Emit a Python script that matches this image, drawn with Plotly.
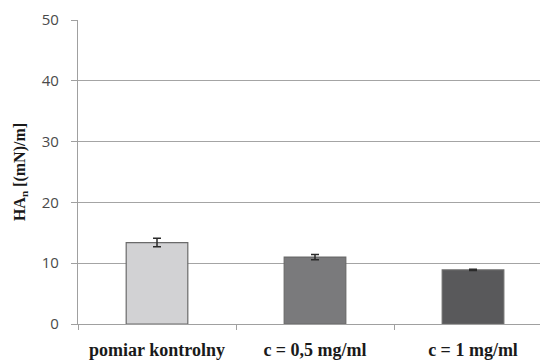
import plotly.graph_objects as go

categories = ["pomiar kontrolny", "c = 0,5 mg/ml", "c = 1 mg/ml"]
values = [13.4, 11.0, 8.9]
errors = [0.7, 0.45, 0.1]
bar_colors = ["#d2d2d4", "#7a7a7c", "#59595b"]

fig = go.Figure()
fig.add_trace(go.Bar(
    x=categories,
    y=values,
    width=0.39,
    marker=dict(color=bar_colors, line=dict(color="#6a6a6a", width=1.2)),
    error_y=dict(type="data", array=errors, visible=True,
                 color="#2a2a2a", thickness=1.5, width=4),
))

fig.update_layout(
    width=540, height=361,
    margin=dict(l=78, r=0, t=20, b=37),
    paper_bgcolor="white", plot_bgcolor="white",
    showlegend=False,
    xaxis=dict(
        type="category",
        range=[-0.5, 2.424],
        tickson="boundaries",
        ticks="outside", ticklen=5, tickcolor="#a0a0a0", tickwidth=1,
        ticklabelstandoff=9,
        showline=True, linecolor="#a0a0a0", linewidth=1.2,
        showgrid=False,
        tickfont=dict(family="Liberation Serif", size=18, color="#1a1a1a", weight="bold"),
    ),
    yaxis=dict(
        range=[0, 50],
        dtick=10,
        ticks="outside", ticklen=6, tickcolor="#a0a0a0", tickwidth=1,
        ticklabelstandoff=9,
        showline=True, linecolor="#a0a0a0", linewidth=1.2,
        showgrid=True, gridcolor="#a4a4a4", gridwidth=1.3,
        zeroline=False,
        tickfont=dict(family="Open Sans", size=15, color="#4a4a4a"),
        title=dict(text="HA<sub>n</sub> [(mN)/m]", standoff=12,
                   font=dict(family="Liberation Serif", size=16, color="#1a1a1a", weight="bold")),
    ),
)

fig.write_html("out.html")
